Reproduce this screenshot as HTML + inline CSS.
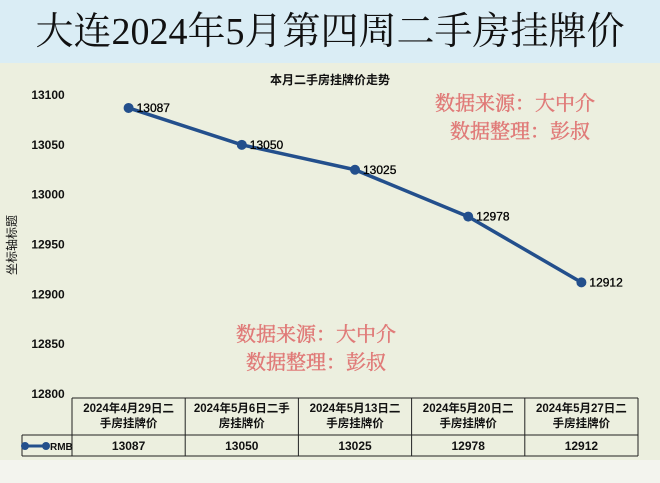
<!DOCTYPE html>
<html><head><meta charset="utf-8"><style>
body{margin:0;width:660px;height:483px;overflow:hidden;background:#f3f4ee;font-family:"Liberation Sans","Noto Sans CJK SC",sans-serif}
#title{position:absolute;left:0;top:0;width:660px;height:63px;background:#daedf5;text-align:center;font:38px/64px "Liberation Serif","Noto Serif CJK SC",serif;color:#111}
#chart{position:absolute;left:0;top:63px;width:660px;height:397px;background:#ecefdf}
svg{position:absolute;left:0;top:0}
</style></head><body>
<div id="title">大连2024年5月第四周二手房挂牌价</div>
<div id="chart"></div>
<svg width="660" height="483" id="svg"></svg>
<script>
const categories=["2024年4月29日二手房挂牌价","2024年5月6日二手房挂牌价","2024年5月13日二手房挂牌价","2024年5月20日二手房挂牌价","2024年5月27日二手房挂牌价"];
const catLines=[["2024年4月29日二","手房挂牌价"],["2024年5月6日二手","房挂牌价"],["2024年5月13日二","手房挂牌价"],["2024年5月20日二","手房挂牌价"],["2024年5月27日二","手房挂牌价"]];
const values=[13087,13050,13025,12978,12912];
const yTicks=[13100,13050,13000,12950,12900,12850,12800];
const NS="http://www.w3.org/2000/svg",svg=document.getElementById('svg');
function el(t,a,txt){const e=document.createElementNS(NS,t);for(const k in a)e.setAttribute(k,a[k]);if(txt!=null)e.textContent=txt;svg.appendChild(e);return e;}
const x0=72,colW=113.2;
const xs=i=>x0+colW*(i+0.5);
const ys=v=>95+(13100-v)*0.9967;
let t=el('text',{x:330,y:84,'text-anchor':'middle','font-size':12,'font-weight':'bold',fill:'#111'},'本月二手房挂牌价走势');

yTicks.forEach(v=>{const e=el('text',{x:48,y:ys(v)+4,'text-anchor':'middle','font-size':12,'font-weight':'bold',fill:'#111'},v);
});
t=el('text',{x:16,y:245,'text-anchor':'middle','font-size':12,fill:'#111',transform:'rotate(-90 16 245)'},'坐标轴标题');

[[515,110,'数据来源：大中介'],[520,138,'数据整理：彭叔'],[316,341,'数据来源：大中介'],[316,369,'数据整理：彭叔']].forEach(w=>{
const e=el('text',{x:w[0],y:w[1],'text-anchor':'middle','font-size':20,fill:'#e07a78',stroke:'#e07a78','stroke-width':0.4,'font-family':'"Noto Serif CJK SC",serif'},w[2]);
});
let d='';values.forEach((v,i)=>{d+=(i?'L':'M')+xs(i)+','+ys(v);});
const p=el('path',{d:d,fill:'none',stroke:'#234f8c','stroke-width':3.5,'stroke-linejoin':'round'});

values.forEach((v,i)=>{const c=el('circle',{cx:xs(i),cy:ys(v),r:5,fill:'#234f8c'});

const l=el('text',{x:xs(i)+8,y:ys(v)+4,'font-size':12,fill:'#000',stroke:'#000','stroke-width':0.3},v);
});
const tt=398,tm=435,tb=456;
const g='#222';
el('line',{x1:x0,y1:tt,x2:x0+colW*5,y2:tt,stroke:g});
el('line',{x1:22,y1:tm,x2:x0+colW*5,y2:tm,stroke:g});
el('line',{x1:22,y1:tb,x2:x0+colW*5,y2:tb,stroke:g});
el('line',{x1:22,y1:tm,x2:22,y2:tb,stroke:g});
for(let i=0;i<=5;i++)el('line',{x1:x0+colW*i,y1:tt,x2:x0+colW*i,y2:tb,stroke:g});
catLines.forEach((ls,i)=>{ls.forEach((s,j)=>{const e=el('text',{x:xs(i),y:tt+14+j*15,'text-anchor':'middle','font-size':11.5,'font-weight':'bold',fill:'#111'},s);
});
const e=el('text',{x:xs(i),y:tb-6,'text-anchor':'middle','font-size':12,'font-weight':'bold',fill:'#111'},values[i]);
});
el('line',{x1:25,y1:446,x2:46,y2:446,stroke:'#234f8c','stroke-width':3});
el('circle',{cx:25,cy:446,r:4,fill:'#234f8c'});el('circle',{cx:46,cy:446,r:4,fill:'#234f8c'});
t=el('text',{x:50,y:450,'font-size':10,'font-weight':'bold',fill:'#111'},'RMB');

</script>
</body></html>
